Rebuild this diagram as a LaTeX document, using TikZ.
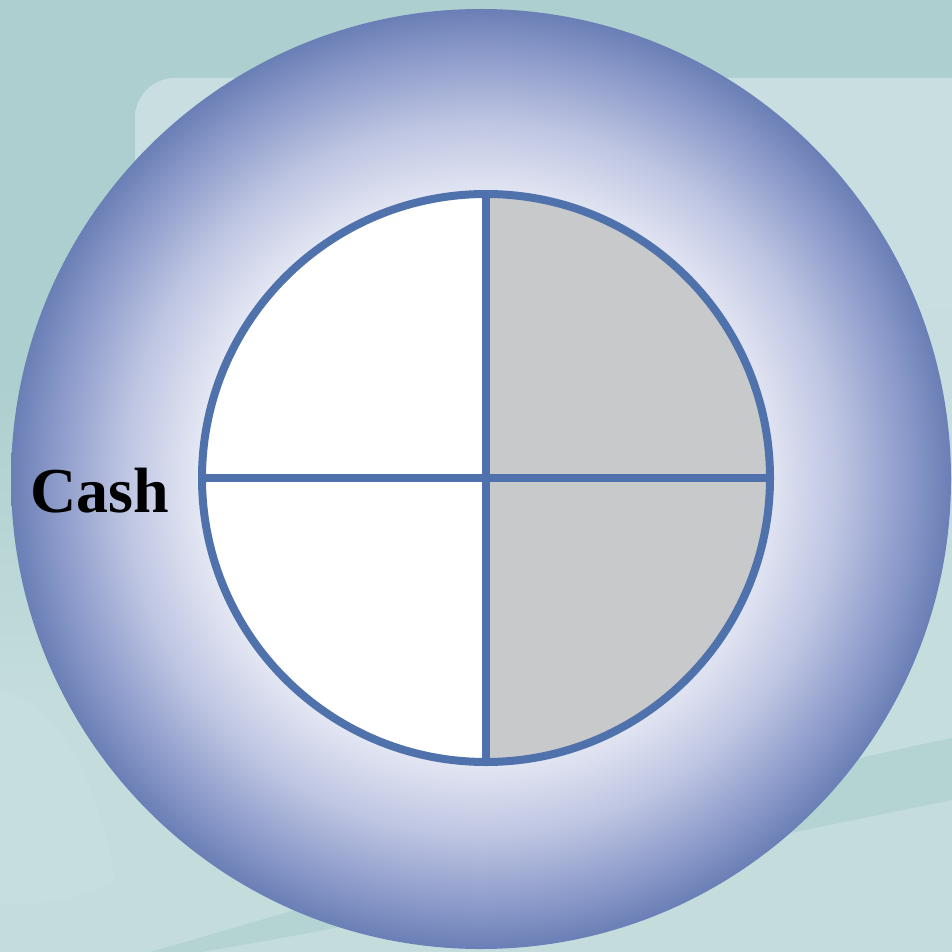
\documentclass[tikz,border=0pt]{standalone}
\usepackage{fontspec}
\setmainfont{Liberation Serif}
\definecolor{bgtop}{HTML}{AECFCF}
\definecolor{bgbot}{HTML}{C4DCDC}
\definecolor{panel}{HTML}{C9DEE1}
\definecolor{swoosh}{HTML}{B4D4D4}
\definecolor{faint}{HTML}{CBE0E1}
\definecolor{ringblue}{HTML}{6A7FB6}
\definecolor{ringmid}{HTML}{8E9CCB}
\definecolor{ringsoft}{HTML}{BEC5E2}
\definecolor{ringlight}{HTML}{E4E7F3}
\definecolor{linecol}{HTML}{5072AC}
\definecolor{greyfill}{HTML}{C8C9CB}
\pgfdeclareradialshading{ringshade}{\pgfpoint{0bp}{0bp}}{%
  color(0bp)=(white);
  color(15bp)=(ringlight);
  color(19bp)=(ringsoft);
  color(22.5bp)=(ringmid);
  color(25bp)=(ringblue);
  color(50bp)=(ringblue)}
\tikzset{
  divider/.style={draw=linecol, line width=8pt},
  label/.style={font=\bfseries\fontsize{64}{64}\selectfont, text=black, inner sep=0pt, anchor=base}
}
\begin{document}
\begin{tikzpicture}[x=1pt,y=-1pt]
\useasboundingbox (0,0) rectangle (952,952);
% background
\fill[bgtop] (0,0) rectangle (952,952);
\shade[top color=bgtop, bottom color=bgbot] (0,380) rectangle (952,700);
\fill[bgbot] (0,699) rectangle (952,952);
\shade[top color=panel, bottom color=bgbot, rounded corners=40pt] (135,78) rectangle (1000,1000);
% faint shape lower left
\fill[faint, opacity=0.5] (0,690) .. controls (40,700) and (90,740) .. (115,880) .. controls (80,900) and (40,905) .. (0,905) -- cycle;
% swoosh band
\fill[swoosh] (150,952) .. controls (400,880) and (700,790) .. (952,738) -- (952,800) .. controls (700,850) and (400,920) .. (200,952) -- cycle;
% outer ring
\shade[shading=ringshade] (481,479) circle[radius=470];
% inner circle halves
\fill[white] (486,478) ++(90:-284) arc[start angle=-90, end angle=-270, radius=284] -- cycle;
\fill[greyfill] (486,478) ++(0,284) arc[start angle=90, end angle=-90, radius=284] -- cycle;
\draw[divider] (486,478) circle[radius=284];
\coordinate (ctop) at (486,194);
\coordinate (cbot) at (486,762);
\coordinate (cleft) at (202,478);
\coordinate (cright) at (770,478);
\draw[divider] (ctop) -- (cbot);
\draw[divider] (cleft) -- (cright);
% label
\node[label] (cash) at (100,512) {Cash};
\end{tikzpicture}
\end{document}
